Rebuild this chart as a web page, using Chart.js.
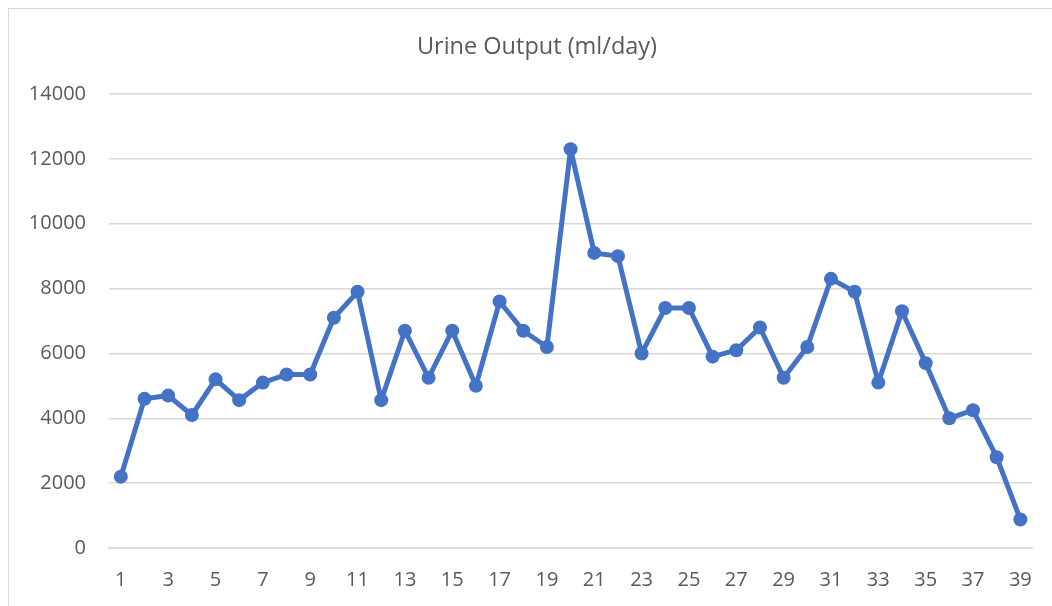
<!DOCTYPE html>
<html>
<head>
<meta charset="utf-8">
<script src="https://cdn.jsdelivr.net/npm/chart.js@4/dist/chart.umd.min.js"></script>
<style>
  html, body { margin: 0; padding: 0; background: #fff; overflow: hidden; }
  #wrap { position: relative; width: 1052px; height: 606px; }
  #frame { position: absolute; left: 8px; top: 8px; width: 1200px; height: 800px; border: 1.5px solid #d9d9d9; box-sizing: border-box; }
  #grafico { position: absolute; left: 0; top: 0; }
</style>
</head>
<body>
<div id="wrap">
  <div id="frame"></div>
  <canvas id="grafico" width="1052" height="606"></canvas>
</div>
<script>
// data
const days = ['1','2','3','4','5','6','7','8','9','10','11','12','13','14','15','16','17','18','19','20',
              '21','22','23','24','25','26','27','28','29','30','31','32','33','34','35','36','37','38','39'];
const urineOutput = [2200, 4600, 4700, 4100, 5200, 4560, 5100, 5350, 5350, 7100,
                     7900, 4560, 6700, 5250, 6700, 5000, 7600, 6700, 6200, 12300,
                     9100, 9000, 6000, 7400, 7400, 5900, 6100, 6800, 5250, 6200,
                     8300, 7900, 5100, 7300, 5700, 4000, 4250, 2800, 880];
const yMin = 0;
const yMax = 14000;
const yStep = 2000;
const titulo = 'Urine Output (ml/day)';

const ctx = document.getElementById('grafico').getContext('2d');
const fonte = '"Open Sans", sans-serif';
const cinza = '#595959';

// title drawn by hand so it sits centred on the chart frame
const tituloPlugin = {
    id: 'tituloFrame',
    afterDraw(chart) {
        const c = chart.ctx;
        c.save();
        c.fillStyle = cinza;
        c.font = '23.5px ' + fonte;
        c.textAlign = 'center';
        c.textBaseline = 'middle';
        c.fillText(titulo, 537, 47);
        c.restore();
    }
};

const grafico = new Chart(ctx, {
    type: 'line',
    data: {
        labels: days,
        datasets: [{
            label: titulo,
            data: urineOutput,
            borderColor: '#4472c4',
            backgroundColor: '#4472c4',
            borderWidth: 5,
            borderJoinStyle: 'round',
            borderCapStyle: 'round',
            pointRadius: 7,
            pointBackgroundColor: '#4472c4',
            pointBorderColor: '#4472c4',
            pointBorderWidth: 0,
            tension: 0
        }]
    },
    options: {
        responsive: false,
        animation: false,
        layout: { padding: { left: 0, right: 18, top: 94, bottom: 0 } },
        plugins: {
            legend: { display: false },
            tooltip: { enabled: false },
            title: { display: false }
        },
        scales: {
            x: {
                offset: true,
                grid: { display: false, drawTicks: false },
                border: { display: true, color: '#d9d9d9', width: 1.5 },
                ticks: {
                    autoSkip: false,
                    maxRotation: 0,
                    padding: 20,
                    color: cinza,
                    font: { family: fonte, size: 20 },
                    callback: function (val, i) { return i % 2 === 0 ? this.getLabelForValue(val) : ''; }
                },
                afterFit: (scale) => { scale.height = 58; }
            },
            y: {
                min: yMin,
                max: yMax,
                grid: { color: '#d9d9d9', lineWidth: 1.5, drawTicks: false },
                border: { display: false },
                ticks: {
                    stepSize: yStep,
                    padding: 23,
                    color: cinza,
                    font: { family: fonte, size: 20 },
                    callback: (v) => String(v)
                },
                afterFit: (scale) => { scale.width = 109; }
            }
        }
    },
    plugins: [tituloPlugin]
});
</script>
</body>
</html>
